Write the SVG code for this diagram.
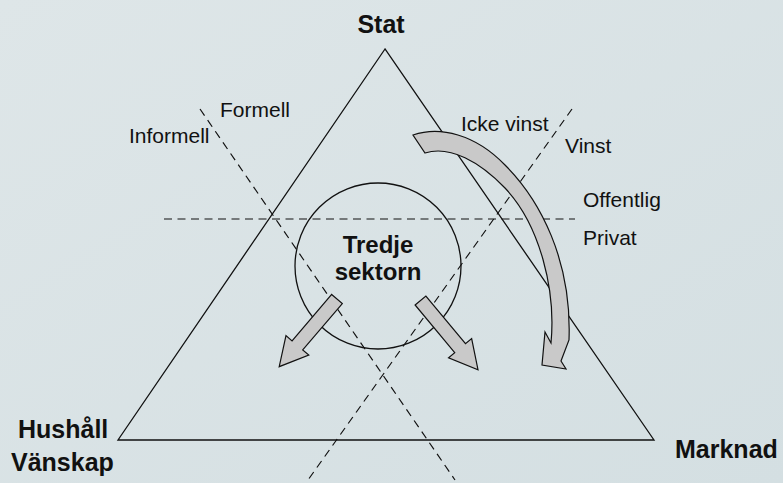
<svg xmlns="http://www.w3.org/2000/svg" width="783" height="483" viewBox="0 0 783 483">
  <defs>
    <linearGradient id="bg" x1="0" y1="0" x2="1" y2="1">
      <stop offset="0" stop-color="#dee6e8"/>
      <stop offset="1" stop-color="#d4dfe2"/>
    </linearGradient>
    <style>
      .edge { fill: none; stroke: #111; stroke-width: 1.3; }
      .dash { fill: none; stroke: #111; stroke-width: 1.2; stroke-dasharray: 8 5.5; }
      .arrow { fill: #c9c9c9; stroke: #111; stroke-width: 1.2; stroke-linejoin: miter; }
      .big { font-family: "Liberation Sans", Arial, sans-serif; font-size: 25px; font-weight: bold; fill: #111; }
      .mid { font-family: "Liberation Sans", Arial, sans-serif; font-size: 24px; font-weight: bold; fill: #111; }
      .small { font-family: "Liberation Sans", Arial, sans-serif; font-size: 21px; fill: #111; }
    </style>
  </defs>
  <rect width="783" height="483" fill="url(#bg)"/>

  <g id="connectors">
    <line class="dash" x1="164" y1="219" x2="575" y2="219"/>
    <line class="dash" x1="200" y1="109" x2="455" y2="480"/>
    <line class="dash" x1="572" y1="109" x2="308" y2="480"/>
  </g>

  <g id="triangle">
    <polygon class="edge" points="385,49 118,440 654,440"/>
  </g>

  <g id="tredje-sektorn">
    <circle class="edge" cx="378" cy="266" r="83"/>
    <text class="mid" x="378" y="253" text-anchor="middle">Tredje</text>
    <text class="mid" x="378" y="280" text-anchor="middle">sektorn</text>
  </g>

  <g id="arrows">
    <polygon class="arrow" transform="translate(337,299) rotate(40.5)" points="-7,0 7,0 7,61 15,61 0,89 -15,61 -7,61"/>
    <polygon class="arrow" transform="translate(420.5,300.5) rotate(-39.7)" points="-7,0 7,0 7,62 15,62 0,90 -15,62 -7,62"/>
    <path class="arrow" d="M 413,135 C 440,126 475,134 505,165 C 540,200 572,260 569,340 L 561,361 L 566,369 L 542,365 L 545,332 L 551,343 C 556,290 540,225 505,188 C 480,162 450,145 425,153 Z"/>
  </g>

  <g id="stat"><text class="big" x="381" y="33" text-anchor="middle">Stat</text></g>
  <g id="hushall">
    <text class="big" x="18" y="438">Hushåll</text>
    <text class="big" x="11" y="471">Vänskap</text>
  </g>
  <g id="marknad"><text class="big" x="675" y="458">Marknad</text></g>

  <g id="labels">
    <text class="small" x="220" y="117">Formell</text>
    <text class="small" x="129" y="143">Informell</text>
    <text class="small" x="461" y="131">Icke vinst</text>
    <text class="small" x="565" y="153">Vinst</text>
    <text class="small" x="583" y="207">Offentlig</text>
    <text class="small" x="583" y="245">Privat</text>
  </g>
</svg>
